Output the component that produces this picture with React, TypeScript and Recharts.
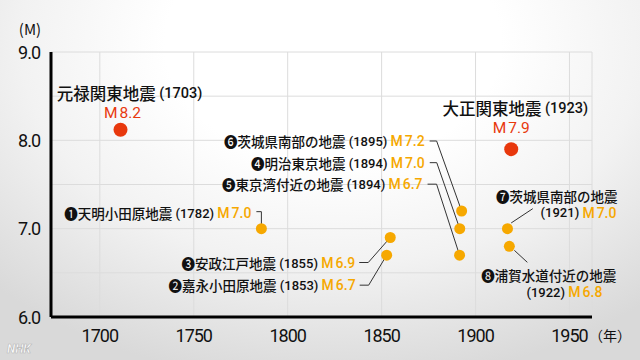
import { CartesianGrid, Scatter, ScatterChart, XAxis, YAxis } from "recharts";

// major quakes (red)
const majorNames = ["元禄関東地震", "大正関東地震"];
const majorYears = ["1703", "1923"];
const majorMags = ["8.2", "7.9"];
const majorPlotX = [1711, 1919];
const majorPlotY = [8.12, 7.9];

// other quakes (orange), numbered ❶..❽
const minorMarks = ["❶", "❷", "❸", "❹", "❺", "❻", "❼", "❽"];
const minorNames = [
  "天明小田原地震",
  "嘉永小田原地震",
  "安政江戸地震",
  "明治東京地震",
  "東京湾付近の地震",
  "茨城県南部の地震",
  "茨城県南部の地震",
  "浦賀水道付近の地震",
];
const minorYears = ["1782", "1853", "1855", "1894", "1894", "1895", "1921", "1922"];
const minorMags = ["7.0", "6.7", "6.9", "7.0", "6.7", "7.2", "7.0", "6.8"];
const minorPlotX = [1786, 1852.7, 1854.6, 1891.6, 1891.5, 1892.6, 1917, 1918];
const minorPlotY = [7.0, 6.7, 6.9, 7.0, 6.7, 7.2, 7.0, 6.8];

const xTicks = [1700, 1750, 1800, 1850, 1900, 1950];
const yTicks = [6, 6.5, 7, 7.5, 8, 8.5, 9];

const RED = "#e8380d";
const ORANGE = "#f6a800";
const JP = "'Noto Sans CJK JP', sans-serif";
const NUM = "Roboto, sans-serif";

const majorData = majorNames.map((name, i) => ({ i, name, x: majorPlotX[i], y: majorPlotY[i] }));
const minorData = minorNames.map((name, i) => ({ i, name, x: minorPlotX[i], y: minorPlotY[i] }));

// label placement relative to each dot
const majorLayout = [
  { tdx: 9, tdy: -37, mdx: 2, mdy: -17 },
  { tdx: 4, tdy: -41, mdx: 0, mdy: -21 },
];

type Lay = {
  dx: number;
  dy: number;
  dx2?: number;
  dy2?: number;
  leader: number[][];
};
const minorLayout: Lay[] = [
  { dx: -10, dy: -16, leader: [[-5, -17], [0, -17], [0, 0]] },
  { dx: -31, dy: 30, leader: [[-27, 30], [-18, 30], [0, 0]] },
  { dx: -35, dy: 25, leader: [[-31, 25], [-22, 25], [0, 0]] },
  { dx: -35, dy: -66, leader: [[-30, -66], [-23, -66], [0, 0]] },
  { dx: -37, dy: -71, leader: [[-32, -71], [-23, -71], [0, 0]] },
  { dx: -37, dy: -70, leader: [[-32, -70], [-25, -70], [0, 0]] },
  { dx: 110, dy: -33, dx2: 109, dy2: -16, leader: [[3.7, -5.7], [25.3, -20]] },
  { dx: 107, dy: 29, dx2: 93, dy2: 46, leader: [[5, 4], [18, 16]] },
];

function Mag({ value }: { value: string }) {
  return (
    <tspan fill={ORANGE} fontSize={14} fontFamily={NUM} fontWeight={500}>
      M<tspan dx={2}>{value}</tspan>
    </tspan>
  );
}

function MajorDot(props: any) {
  const { cx, cy, payload } = props;
  const i = payload.i;
  const lay = majorLayout[i];
  return (
    <g>
      <circle cx={cx} cy={cy} r={7} fill={RED} />
      <text
        x={cx + lay.tdx}
        y={cy + lay.tdy}
        textAnchor="middle"
        dominantBaseline="central"
        fill="#111"
        fontFamily={JP}
      >
        <tspan fontSize={16.5} fontWeight={500}>{majorNames[i]}</tspan>
        <tspan fontSize={14.5} fontFamily={NUM} fontWeight={500}> ({majorYears[i]})</tspan>
      </text>
      <text
        x={cx + lay.mdx}
        y={cy + lay.mdy}
        textAnchor="middle"
        dominantBaseline="central"
        fill={RED}
        fontFamily={NUM}
        fontSize={15.5}
      >
        M<tspan dx={2}>{majorMags[i]}</tspan>
      </text>
    </g>
  );
}

function MinorDot(props: any) {
  const { cx, cy, payload } = props;
  const i = payload.i;
  const lay = minorLayout[i];
  const pts = lay.leader.map(([dx, dy]) => `${cx + dx},${cy + dy}`).join(" ");
  const title = minorMarks[i] + minorNames[i];
  return (
    <g>
      <polyline points={pts} fill="none" stroke="#333" strokeWidth={1} />
      <circle cx={cx} cy={cy} r={5.5} fill={ORANGE} />
      {lay.dx2 === undefined ? (
        <text
          x={cx + lay.dx}
          y={cy + lay.dy}
          textAnchor="end"
          dominantBaseline="central"
          fill="#111"
          fontFamily={JP}
        >
          <tspan fontSize={13.5} fontWeight={500}>{title}</tspan>
          <tspan fontSize={13} fontFamily={NUM} fontWeight={500}> ({minorYears[i]}) </tspan>
          <Mag value={minorMags[i]} />
        </text>
      ) : (
        <g>
          <text
            x={cx + lay.dx}
            y={cy + lay.dy}
            textAnchor="end"
            dominantBaseline="central"
            fill="#111"
            fontFamily={JP}
            fontSize={13.5}
            fontWeight={500}
          >
            {title}
          </text>
          <text
            x={cx + lay.dx2}
            y={cy + (lay.dy2 ?? 0)}
            textAnchor="end"
            dominantBaseline="central"
            fill="#111"
            fontFamily={NUM}
            fontSize={13}
            fontWeight={500}
          >
            ({minorYears[i]}) <Mag value={minorMags[i]} />
          </text>
        </g>
      )}
    </g>
  );
}

function YTick(props: any) {
  const { y, payload } = props;
  if (payload.value % 1 !== 0) return null;
  return (
    <text x={40} y={y} textAnchor="end" dominantBaseline="central" fontFamily={NUM} fontSize={18} letterSpacing={-1} fill="#111">
      {payload.value.toFixed(1)}
    </text>
  );
}

function XTick(props: any) {
  const { x, y, payload } = props;
  return (
    <text x={x} y={y + 10} textAnchor="middle" dominantBaseline="central" fontFamily={NUM} fontSize={18} letterSpacing={-1} fill="#111">
      {payload.value}
    </text>
  );
}

export default function App() {
  return (
    <div
      style={{
        position: "absolute",
        left: 0,
        top: 0,
        width: 640,
        height: 360,
        background: "radial-gradient(ellipse 75% 95% at 52% 12%, #ffffff 35%, #f2f2f2 65%, #d9d9d9 100%)",
      }}
    >
      <ScatterChart width={640} height={360} margin={{ top: 52, right: 48, bottom: 0, left: 0 }}>
        <CartesianGrid stroke="#dcdcdc" strokeWidth={1} />
        <XAxis
          type="number"
          dataKey="x"
          domain={[1674, 1962]}
          ticks={xTicks}
          height={43}
          tickLine={false}
          axisLine={{ stroke: "#000", strokeWidth: 3 }}
          tick={<XTick />}
        />
        <YAxis
          type="number"
          dataKey="y"
          domain={[6, 9]}
          ticks={yTicks}
          width={51}
          tickLine={false}
          axisLine={{ stroke: "#000", strokeWidth: 3 }}
          tick={<YTick />}
        />
        <Scatter data={minorData} shape={<MinorDot />} isAnimationActive={false} />
        <Scatter data={majorData} shape={<MajorDot />} isAnimationActive={false} />
        <text x={30} y={28} textAnchor="middle" dominantBaseline="central" fontFamily={JP} fontSize={15} fill="#111">
          (M)
        </text>
        <text x={610} y={335} textAnchor="middle" dominantBaseline="central" fontFamily={JP} fontSize={14} fill="#111">
          （年）
        </text>
        <text x={7} y={353} fontFamily={NUM} fontSize={12} fontWeight={900} fontStyle="italic" fill="#fff" stroke="#bbb" strokeWidth={0.7}>
          NHK
        </text>
      </ScatterChart>
    </div>
  );
}
